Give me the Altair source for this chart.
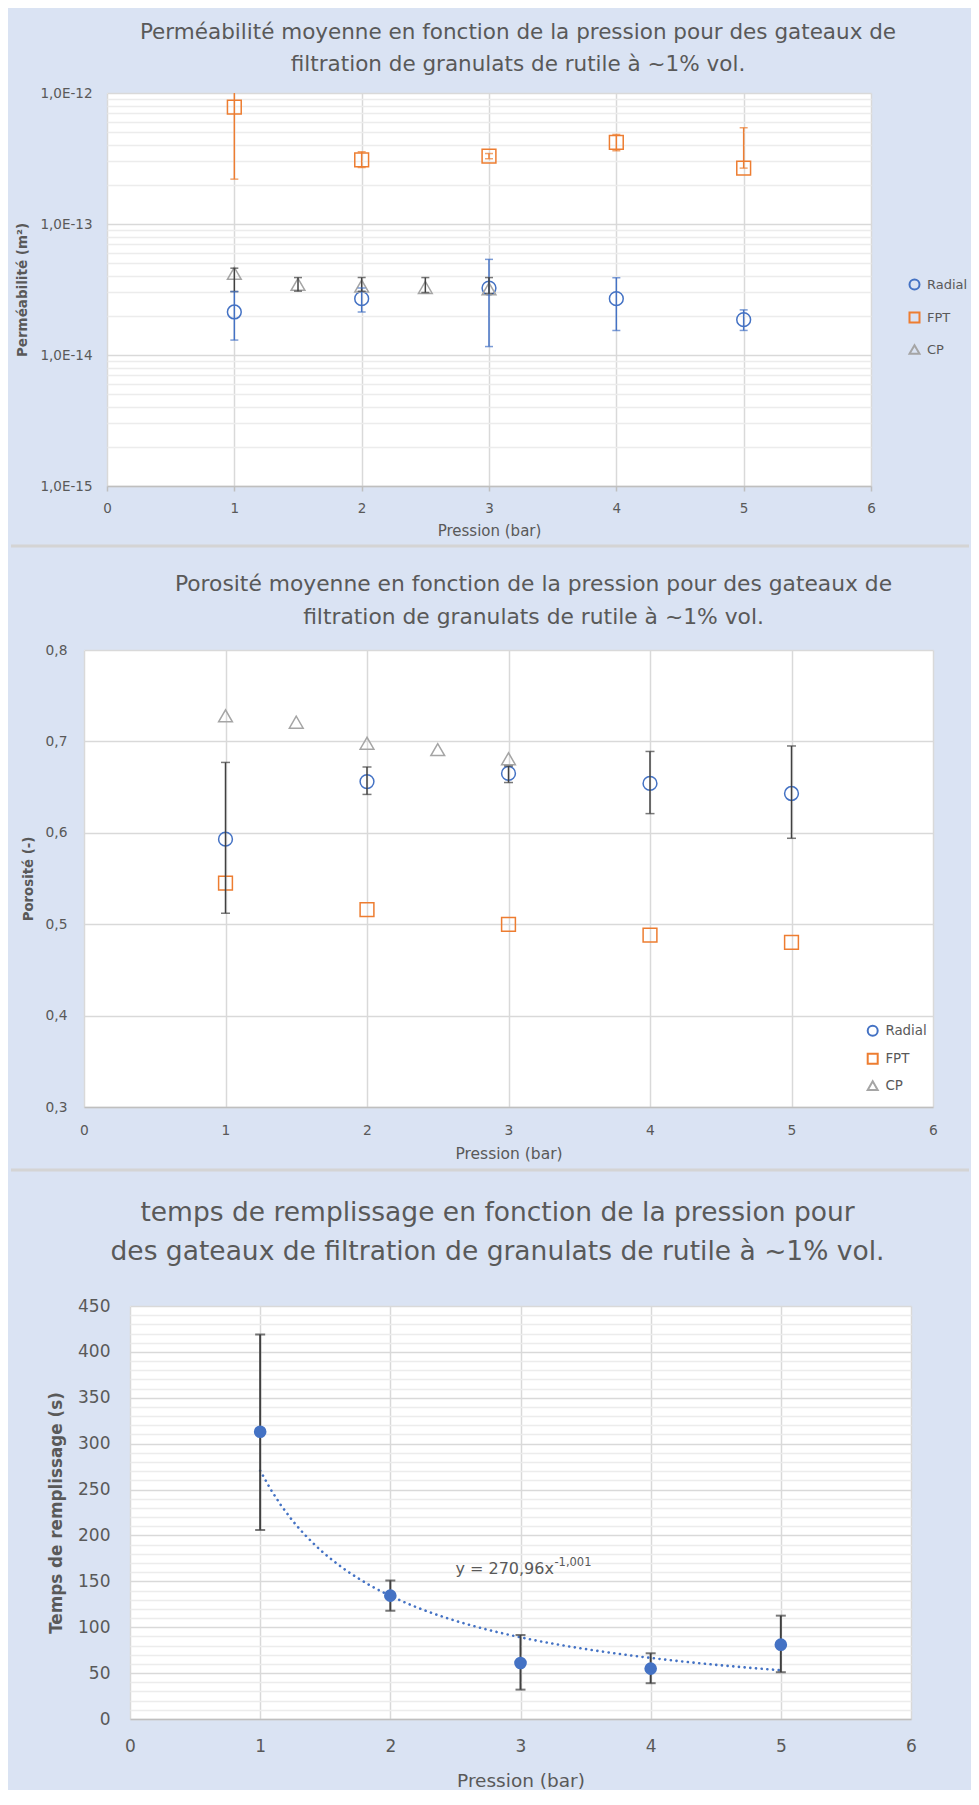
import altair as alt
import pandas as pd

FONT = "DejaVu Sans"
BLUE, ORANGE, GRAY = "#4472c4", "#ed7d31", "#a5a5a5"
DARK = "#404040"
GRID = "#d9d9d9"
MINOR = "#ececec"
AXISC = "#bfbfbf"
TXT = "#595959"
BG = "#dae3f3"
SEP = "#d4d4d4"

# ---------------- data ----------------
series = ["Radial", "FPT", "CP"]
series_colors = [BLUE, ORANGE, GRAY]
series_shapes = ["circle", "square", "triangle-up"]
x_ticks = [0, 1, 2, 3, 4, 5, 6]

# Panel 1 : permeability (m2), log axis
perm_radial_x = [1, 2, 3, 4, 5]
perm_radial = [2.13e-14, 2.69e-14, 3.24e-14, 2.69e-14, 1.86e-14]
perm_radial_lo = [1.30e-14, 2.13e-14, 1.16e-14, 1.54e-14, 1.54e-14]
perm_radial_hi = [3.05e-14, 3.25e-14, 5.37e-14, 3.89e-14, 2.21e-14]

perm_fpt_x = [1, 2, 3, 4, 5]
perm_fpt = [7.8e-13, 3.09e-13, 3.3e-13, 4.2e-13, 2.67e-13]
perm_fpt_lo = [2.2e-13, 2.7e-13, 3.15e-13, 3.62e-13, 2.67e-13]
perm_fpt_hi = [1.34e-12, 3.56e-13, 3.45e-13, 4.83e-13, 5.43e-13]

perm_cp_x = [1, 1.5, 2, 2.5, 3]
perm_cp = [4.2e-14, 3.46e-14, 3.36e-14, 3.28e-14, 3.2e-14]
perm_cp_lo = [3.05e-14, 3.07e-14, 3.07e-14, 3.0e-14, 2.95e-14]
perm_cp_hi = [4.6e-14, 3.9e-14, 3.9e-14, 3.9e-14, 3.9e-14]

perm_ticks = [m * 10.0 ** e for e in (-15, -14, -13) for m in range(1, 10)] + [1e-12]

# Panel 2 : porosity (-)
poro_radial_x = [1, 2, 3, 4, 5]
poro_radial = [0.593, 0.656, 0.665, 0.654, 0.643]
poro_radial_lo = [0.512, 0.642, 0.655, 0.621, 0.594]
poro_radial_hi = [0.677, 0.672, 0.673, 0.689, 0.695]

poro_fpt_x = [1, 2, 3, 4, 5]
poro_fpt = [0.545, 0.516, 0.4997, 0.488, 0.480]

poro_cp_x = [1, 1.5, 2, 2.5, 3]
poro_cp = [0.728, 0.721, 0.698, 0.691, 0.681]

poro_ticks = [0.3, 0.4, 0.5, 0.6, 0.7, 0.8]

# Panel 3 : filling time (s)
time_x = [1, 2, 3, 4, 5]
time_v = [313, 134.4, 61, 54.9, 81]
time_lo = [206, 118, 32, 39, 51]
time_hi = [419, 151, 91.5, 71.6, 112.6]
time_ticks = list(range(0, 451, 10))

eq_main = "y = 270,96x"
eq_sup = "-1,001"
eq_anchor = [2.5, 163]

title1 = ["Perméabilité moyenne en fonction de la pression pour des gateaux de",
          "filtration de granulats de rutile à ~1% vol."]
title2 = ["Porosité moyenne en fonction de la pression pour des gateaux de",
          "filtration de granulats de rutile à ~1% vol."]
title3 = ["temps de remplissage en fonction de la pression pour",
          "des gateaux de filtration de granulats de rutile à ~1% vol."]


def frame(name, xs, vs, lo=None, hi=None):
    n = len(xs)
    return pd.DataFrame({
        "serie": [name] * n, "x": xs, "v": vs,
        "lo": lo if lo is not None else [float("nan")] * n,
        "hi": hi if hi is not None else [float("nan")] * n,
    })


def spacer(w):
    return alt.Chart(pd.DataFrame({"a": [0]})).mark_point(opacity=0).encode(
        x=alt.value(0), y=alt.value(0)
    ).properties(width=w, height=10)


def separator(w, h, y):
    return alt.Chart(pd.DataFrame({"a": [0]})).mark_rule(color=SEP, strokeWidth=3).encode(
        x=alt.value(0), x2=alt.value(w), y=alt.value(y)
    ).properties(width=w, height=h)


def xaxis(label_size, label_pad, title_size, title_y, title_x, ticks):
    kw = dict(values=x_ticks, grid=True, gridColor=GRID, gridWidth=1.5,
              domainColor=AXISC, domainWidth=1.5,
              labelFont=FONT, labelFontSize=label_size, labelColor=TXT,
              labelPadding=label_pad, labelBaseline="middle", labelFlush=False,
              labelOverlap=False,
              title="Pression (bar)", titleFont=FONT, titleFontSize=title_size,
              titleFontWeight="normal", titleColor=TXT, titleBaseline="middle",
              titleY=title_y, titleX=title_x)
    if ticks:
        kw.update(ticks=True, tickColor=AXISC, tickSize=5, tickWidth=1.5)
    else:
        kw.update(ticks=False)
    return alt.Axis(**kw)


def legend(lx, ly, row_pad, size):
    return alt.Legend(title=None, orient="none", legendX=lx, legendY=ly, padding=0,
                      rowPadding=row_pad, labelFont=FONT, labelFontSize=size,
                      labelColor=TXT, symbolSize=100, symbolStrokeWidth=2,
                      labelOffset=6)


# ---------------- panel 1 ----------------
W1, H1 = 764, 393
p1 = pd.concat([
    frame("Radial", perm_radial_x, perm_radial, perm_radial_lo, perm_radial_hi),
    frame("FPT", perm_fpt_x, perm_fpt, perm_fpt_lo, perm_fpt_hi),
    frame("CP", perm_cp_x, perm_cp, perm_cp_lo, perm_cp_hi),
], ignore_index=True)

major_test = "abs(log(datum.value)/LN10 - round(log(datum.value)/LN10)) < 0.01"
ax1y = alt.Axis(values=perm_ticks, grid=True,
                gridColor={"condition": {"test": major_test, "value": GRID}, "value": MINOR},
                gridWidth=1.5, domain=False, ticks=False,
                labelExpr=major_test + " ? '1,0E' + round(log(datum.value)/LN10) : ''",
                labelFont=FONT, labelFontSize=13.5, labelColor=TXT, labelPadding=15,
                labelFlush=False, labelOverlap=False,
                title="Perméabilité (m²)", titleFont=FONT, titleFontSize=13.5,
                titleFontWeight="bold", titleColor=TXT, titleAngle=270,
                titleX=-85, titleY=H1 / 2, titleBaseline="middle", titleAlign="center")
ax1x = xaxis(13.5, 17, 15, 44.4, W1 / 2, True)
sx1 = alt.Scale(domain=[0, 6], nice=False)
sy1 = alt.Scale(type="log", domain=[1e-15, 1e-12], nice=False)


def X1():
    return alt.X("x:Q", scale=sx1, axis=ax1x)


def Y1(f):
    return alt.Y(f, type="quantitative", scale=sy1, axis=ax1y)


errcol1 = ("datum.serie === 'Radial' ? '%s' : datum.serie === 'FPT' ? '%s' : '%s'"
           % (BLUE, ORANGE, DARK))
base1 = alt.Chart(p1)
eb1 = base1.transform_filter("isValid(datum.lo)").transform_calculate(ecol=errcol1)
ecol1 = alt.Color("ecol:N", scale=None)
leg1 = legend(801, 185, 14, 13)
pts1 = base1.mark_point(filled=False, strokeWidth=1.5, size=190, opacity=1).encode(
    x=X1(), y=Y1("v"),
    color=alt.Color("serie:N", scale=alt.Scale(domain=series, range=series_colors), legend=leg1),
    shape=alt.Shape("serie:N", scale=alt.Scale(domain=series, range=series_shapes), legend=leg1),
)
rule1 = eb1.mark_rule(strokeWidth=1.5, clip=True).encode(x=X1(), y=Y1("lo"), y2="hi:Q", color=ecol1)
caplo1 = eb1.mark_tick(orient="horizontal", size=8, thickness=1.5, clip=True).encode(
    x=X1(), y=Y1("lo"), color=ecol1)
caphi1 = eb1.mark_tick(orient="horizontal", size=8, thickness=1.5, clip=True).encode(
    x=X1(), y=Y1("hi"), color=ecol1)

t1 = alt.TitleParams(text=title1, font=FONT, fontSize=21.5, fontWeight="normal", color=TXT,
                     lineHeight=32, anchor="middle", frame="group", dx=29, offset=11)
panel1 = alt.layer(pts1, rule1, caplo1, caphi1).properties(
    width=W1, height=H1, title=t1, view=alt.ViewBackground(fill="white", strokeWidth=0))

# ---------------- panel 2 ----------------
W2, H2 = 849, 457
p2 = pd.concat([
    frame("Radial", poro_radial_x, poro_radial, poro_radial_lo, poro_radial_hi),
    frame("FPT", poro_fpt_x, poro_fpt),
    frame("CP", poro_cp_x, poro_cp),
], ignore_index=True)
ax2y = alt.Axis(values=poro_ticks, grid=True, gridColor=GRID, gridWidth=1.5,
                domain=False, ticks=False,
                labelExpr="replace(format(datum.value, '.1f'), '.', ',')",
                labelFont=FONT, labelFontSize=13.8, labelColor=TXT, labelPadding=17,
                labelFlush=False, labelOverlap=False,
                title="Porosité (-)", titleFont=FONT, titleFontSize=13.3,
                titleFontWeight="bold", titleColor=TXT, titleAngle=270,
                titleX=-56, titleY=H2 / 2, titleBaseline="middle", titleAlign="center")
ax2x = xaxis(13.8, 23.3, 15.5, 46.2, W2 / 2, False)
sx2 = alt.Scale(domain=[0, 6], nice=False)
sy2 = alt.Scale(domain=[0.3, 0.8], nice=False, zero=False)


def X2():
    return alt.X("x:Q", scale=sx2, axis=ax2x)


def Y2(f):
    return alt.Y(f, type="quantitative", scale=sy2, axis=ax2y)


base2 = alt.Chart(p2)
eb2 = base2.transform_filter("isValid(datum.lo)")
leg2 = legend(782, 374, 9, 13.4)
pts2 = base2.mark_point(filled=False, strokeWidth=1.5, size=190, opacity=1).encode(
    x=X2(), y=Y2("v"),
    color=alt.Color("serie:N", scale=alt.Scale(domain=series, range=series_colors), legend=leg2),
    shape=alt.Shape("serie:N", scale=alt.Scale(domain=series, range=series_shapes), legend=leg2),
)
rule2 = eb2.mark_rule(strokeWidth=1.5, color=DARK).encode(x=X2(), y=Y2("lo"), y2="hi:Q")
caplo2 = eb2.mark_tick(orient="horizontal", size=9, thickness=1.5, color=DARK).encode(x=X2(), y=Y2("lo"))
caphi2 = eb2.mark_tick(orient="horizontal", size=9, thickness=1.5, color=DARK).encode(x=X2(), y=Y2("hi"))
t2 = alt.TitleParams(text=title2, font=FONT, fontSize=21.8, fontWeight="normal", color=TXT,
                     lineHeight=33, anchor="middle", frame="group", dx=25, offset=14)
panel2 = alt.layer(pts2, rule2, caplo2, caphi2).properties(
    width=W2, height=H2, title=t2, view=alt.ViewBackground(fill="white", strokeWidth=0))

# ---------------- panel 3 ----------------
W3, H3 = 781, 413
p3 = pd.DataFrame({"x": time_x, "t": time_v, "lo": time_lo, "hi": time_hi})
ax3y = alt.Axis(values=time_ticks, grid=True,
                gridColor={"condition": {"test": "datum.value % 50 === 0", "value": GRID}, "value": MINOR},
                gridWidth=1.5, domain=False, ticks=False,
                labelExpr="datum.value % 50 === 0 ? datum.value : ''",
                labelFont=FONT, labelFontSize=17, labelColor=TXT, labelPadding=20,
                labelFlush=False, labelOverlap=False,
                title="Temps de remplissage (s)", titleFont=FONT, titleFontSize=16.8,
                titleFontWeight="bold", titleColor=TXT, titleAngle=270,
                titleX=-74, titleY=H3 / 2, titleBaseline="middle", titleAlign="center")
ax3x = xaxis(17, 27.6, 18.5, 61, W3 / 2, False)
sx3 = alt.Scale(domain=[0, 6], nice=False)
sy3 = alt.Scale(domain=[0, 450], nice=False)


def X3():
    return alt.X("x:Q", scale=sx3, axis=ax3x)


def Y3(f):
    return alt.Y(f, type="quantitative", scale=sy3, axis=ax3y)


base3 = alt.Chart(p3)
trend3 = base3.transform_regression("x", "t", method="pow").mark_line(
    color=BLUE, strokeWidth=2.6, strokeDash=[0.1, 5.6], strokeCap="round").encode(x=X3(), y=Y3("t"))
rule3 = base3.mark_rule(strokeWidth=2, color=DARK).encode(x=X3(), y=Y3("lo"), y2="hi:Q")
caplo3 = base3.mark_tick(orient="horizontal", size=10, thickness=2, color=DARK).encode(x=X3(), y=Y3("lo"))
caphi3 = base3.mark_tick(orient="horizontal", size=10, thickness=2, color=DARK).encode(x=X3(), y=Y3("hi"))
pts3 = base3.mark_point(filled=True, size=160, color=BLUE, opacity=1).encode(x=X3(), y=Y3("t"))
eqdf = pd.DataFrame({"x": [eq_anchor[0]], "y": [eq_anchor[1]], "m": [eq_main], "s": [eq_sup]})
eq1 = alt.Chart(eqdf).mark_text(align="left", baseline="middle", font=FONT, fontSize=16,
                                color=TXT).encode(x=X3(), y=Y3("y"), text="m:N")
eq2 = alt.Chart(eqdf).mark_text(align="left", baseline="middle", font=FONT, fontSize=11.5,
                                color=TXT, dx=99, dy=-6).encode(x=X3(), y=Y3("y"), text="s:N")
t3 = alt.TitleParams(text=title3, font=FONT, fontSize=26.5, fontWeight="normal", color=TXT,
                     lineHeight=39, anchor="middle", frame="group", dx=-23, offset=31.4)
panel3 = alt.layer(trend3, rule3, caplo3, caphi3, pts3, eq1, eq2).properties(
    width=W3, height=H3, title=t3, view=alt.ViewBackground(fill="white", strokeWidth=0))

# ---------------- layout ----------------
row1 = alt.hconcat(spacer(4), panel1, spacing=0).resolve_scale(color="independent", shape="independent")
row2 = alt.hconcat(spacer(9.5), panel2, spacing=0).resolve_scale(color="independent", shape="independent")
row3 = alt.hconcat(spacer(37), panel3, spacing=0)

chart = alt.vconcat(
    row1, separator(958, 35, 7), row2, separator(958, 37.5, 8), row3, spacing=0
).resolve_scale(
    color="independent", shape="independent"
).properties(
    padding={"left": 0, "top": 13, "right": 0, "bottom": 0}
).configure(background=BG, font=FONT).configure_view(strokeWidth=0)

chart.save("out.html", embed_options={"renderer": "svg", "actions": False})
